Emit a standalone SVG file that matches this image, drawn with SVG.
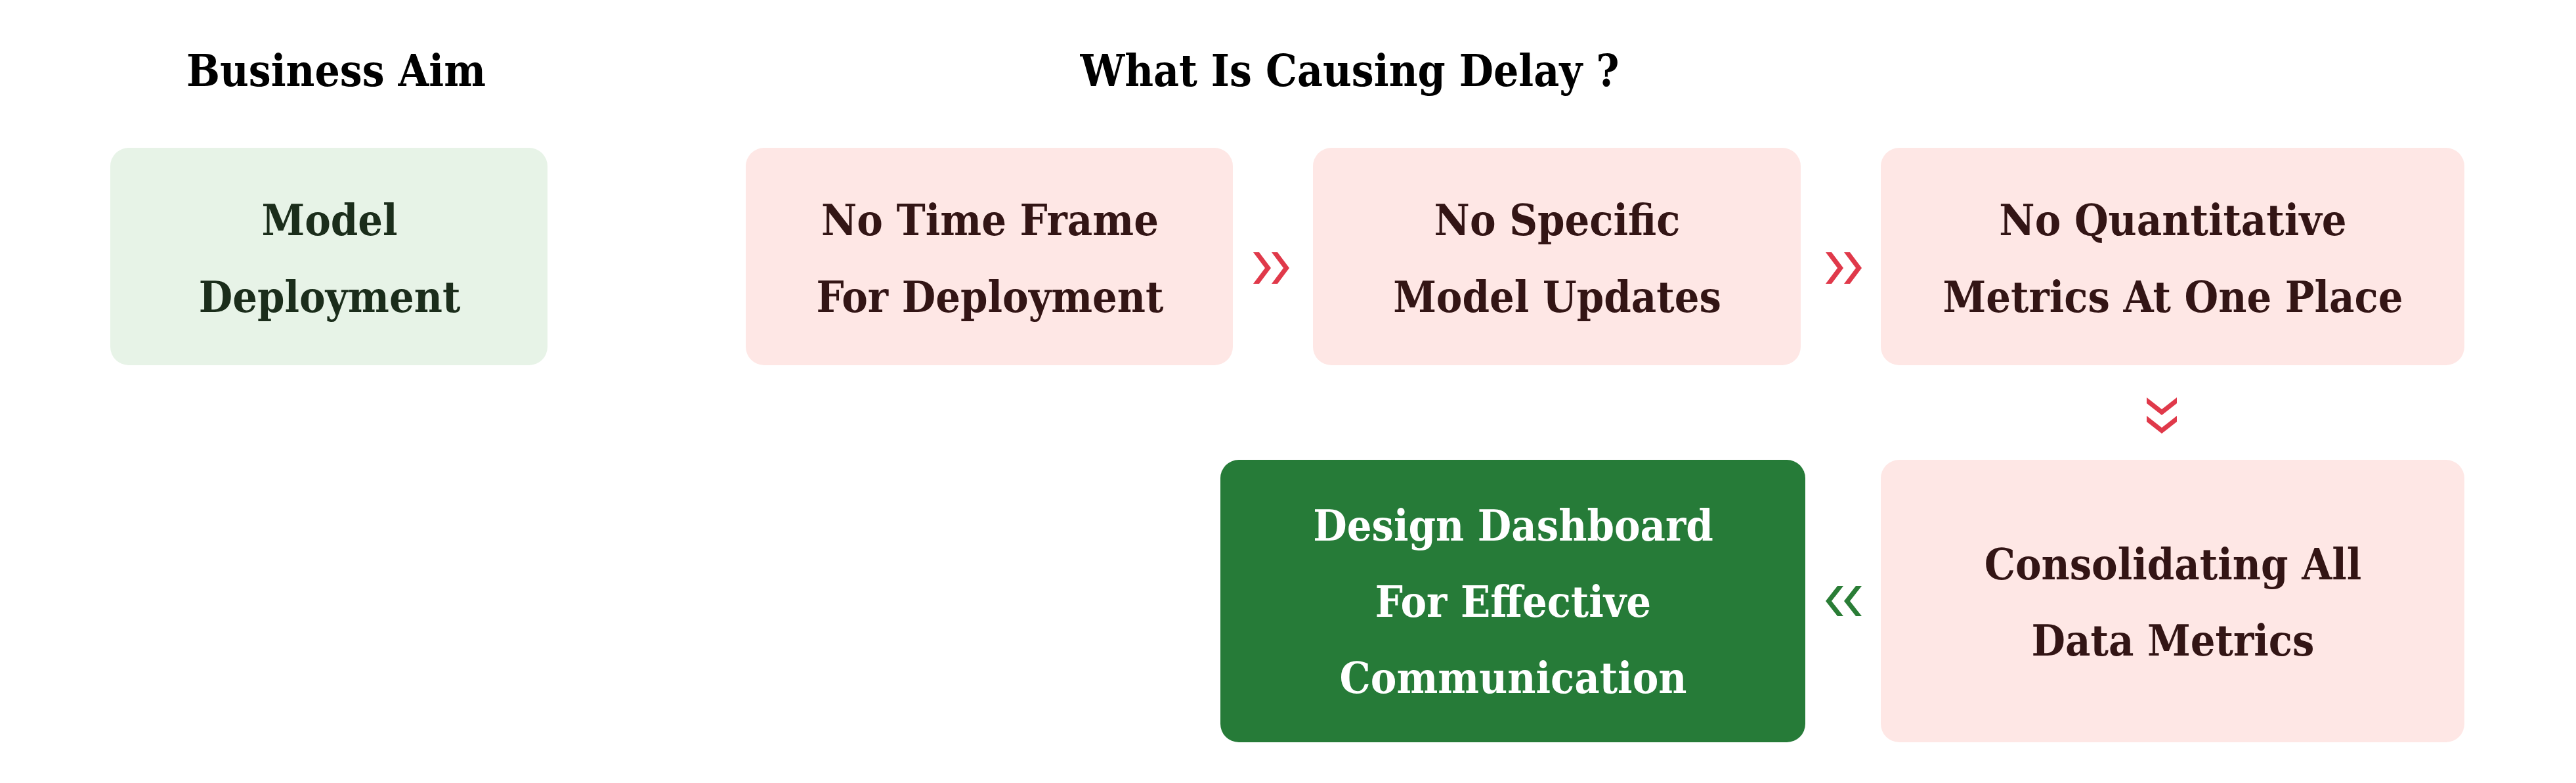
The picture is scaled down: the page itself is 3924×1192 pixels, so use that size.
<svg xmlns="http://www.w3.org/2000/svg" width="3924" height="1192" viewBox="0 0 3924 1192">
<style>
  text { font-family: 'DejaVu Serif Condensed', 'DejaVu Serif', serif; font-weight: bold; text-anchor: middle; }
  .title { font-size: 67px; fill: #000000; }
  .lbl { font-size: 66px; }
  .pink { fill: #FEE7E5; }
  .pinkt { fill: #331515; }
  .chev-r { fill: #E0394A; }
  .chev-g { fill: #2A7D36; }
</style>
<rect width="3924" height="1192" fill="#FFFFFF"/>
<g id="header-business-aim"><text class="title" x="512" y="131">Business Aim</text></g>
<g id="header-delay"><text class="title" x="2056" y="131">What Is Causing Delay ?</text></g>

<g id="node-model-deployment">
  <rect x="168" y="225" width="666" height="331" rx="28" fill="#E7F3E7"/>
  <text class="lbl" x="502" y="358" fill="#1B2D1B">Model</text>
  <text class="lbl" x="502" y="475" fill="#1B2D1B">Deployment</text>
</g>
<g id="node-no-time-frame">
  <rect class="pink" x="1136" y="225" width="742" height="331" rx="28"/>
  <text class="lbl pinkt" x="1508" y="358">No Time Frame</text>
  <text class="lbl pinkt" x="1508" y="475">For Deployment</text>
</g>
<g id="node-no-specific">
  <rect class="pink" x="2000" y="225" width="743" height="331" rx="28"/>
  <text class="lbl pinkt" x="2372" y="358">No Specific</text>
  <text class="lbl pinkt" x="2372" y="475">Model Updates</text>
</g>
<g id="node-no-quantitative">
  <rect class="pink" x="2865" y="225" width="889" height="331" rx="28"/>
  <text class="lbl pinkt" x="3310" y="358">No Quantitative</text>
  <text class="lbl pinkt" x="3310" y="475">Metrics At One Place</text>
</g>
<g id="node-consolidating">
  <rect class="pink" x="2865" y="700" width="889" height="430" rx="28"/>
  <text class="lbl pinkt" x="3310" y="882">Consolidating All</text>
  <text class="lbl pinkt" x="3310" y="998">Data Metrics</text>
</g>
<g id="node-design-dashboard">
  <rect x="1859" y="700" width="891" height="430" rx="28" fill="#267B38"/>
  <text class="lbl" x="2305" y="823" fill="#FFFFFF">Design Dashboard</text>
  <text class="lbl" x="2305" y="939" fill="#FFFFFF">For Effective</text>
  <text class="lbl" x="2305" y="1055" fill="#FFFFFF">Communication</text>
</g>

<g id="connectors">
  <g id="conn-1-2" class="chev-r">
    <polygon points="1909,384 1918,384 1936,408 1918,432 1909,432 1927,408"/>
    <polygon points="1937,384 1946,384 1964,408 1946,432 1937,432 1955,408"/>
  </g>
  <g id="conn-2-3" class="chev-r">
    <polygon points="2781,384 2790,384 2808,408 2790,432 2781,432 2799,408"/>
    <polygon points="2809,384 2818,384 2836,408 2818,432 2809,432 2827,408"/>
  </g>
  <g id="conn-3-4" class="chev-r">
    <polygon points="3270,605 3293,623 3316,605 3316,614 3293,632 3270,614"/>
    <polygon points="3270,633 3293,651 3316,633 3316,642 3293,660 3270,642"/>
  </g>
  <g id="conn-4-5" class="chev-g">
    <polygon points="2808,892 2799,892 2781,915 2799,938 2808,938 2790,915"/>
    <polygon points="2836,892 2827,892 2809,915 2827,938 2836,938 2818,915"/>
  </g>
</g>
</svg>
